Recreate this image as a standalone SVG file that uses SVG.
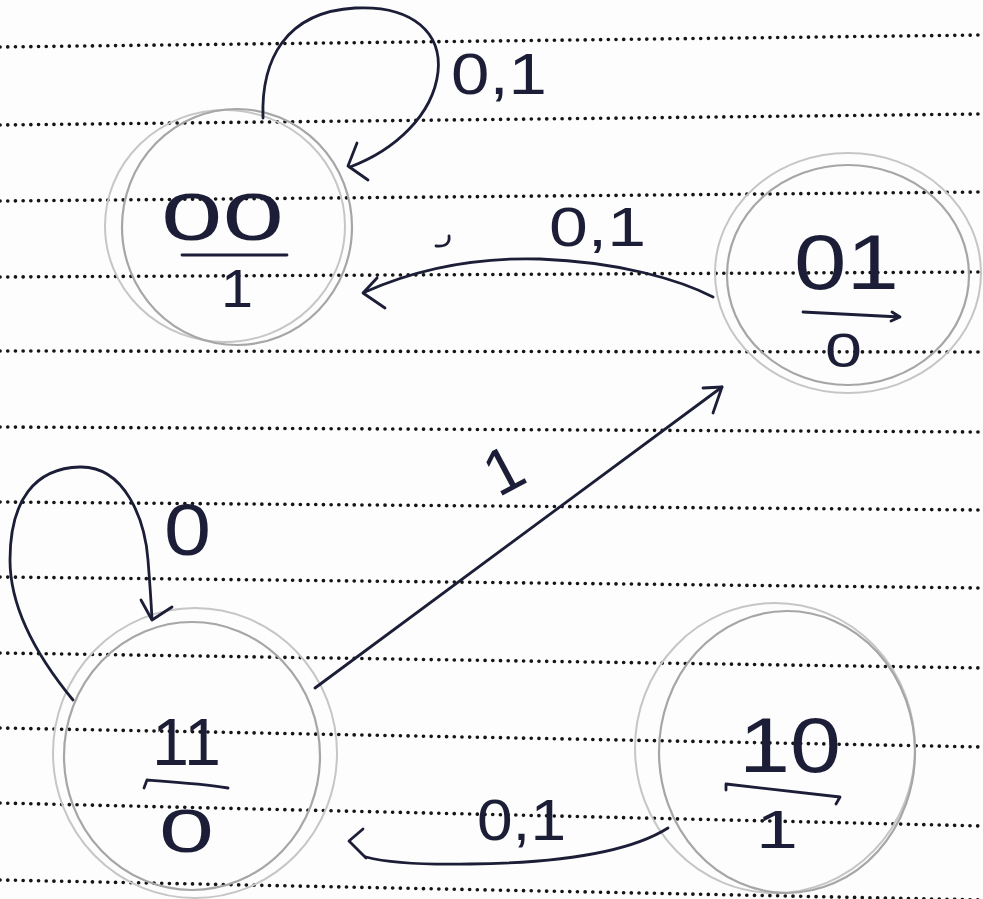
<svg xmlns="http://www.w3.org/2000/svg" width="983" height="899" viewBox="0 0 983 899">
<style>
.paper{fill:#fdfdfd}
.rule{stroke:#151515;stroke-width:3.6;stroke-linecap:round;stroke-dasharray:0.1 7.6;fill:none}
.pen1{fill:none;stroke:#c6c6c6;stroke-width:2}
.pen2{fill:none;stroke:#a6a6a6;stroke-width:2.2}
.ink{fill:none;stroke:#1b1e36;stroke-width:2.8;stroke-linecap:round;stroke-linejoin:round}
.t{font-family:"Liberation Sans",Arial,sans-serif;fill:#1b1e36}
</style>
<rect class="paper" x="0" y="0" width="983" height="899"/>
<g id="ruling">
<line class="rule" x1="0" y1="47" x2="983" y2="35"/>
<line class="rule" x1="0" y1="125" x2="983" y2="114"/>
<line class="rule" x1="0" y1="201" x2="983" y2="192"/>
<line class="rule" x1="0" y1="277" x2="983" y2="272"/>
<line class="rule" x1="0" y1="351" x2="983" y2="352"/>
<line class="rule" x1="0" y1="427" x2="983" y2="432"/>
<line class="rule" x1="0" y1="502" x2="983" y2="510"/>
<line class="rule" x1="0" y1="577" x2="983" y2="588"/>
<line class="rule" x1="0" y1="653" x2="983" y2="668"/>
<line class="rule" x1="0" y1="728" x2="983" y2="747"/>
<line class="rule" x1="0" y1="803" x2="983" y2="826"/>
<line class="rule" x1="0" y1="880" x2="983" y2="900"/>
</g>
<g id="state-00">
<ellipse class="pen1" cx="225" cy="226" rx="120" ry="116"/>
<ellipse class="pen2" cx="237" cy="227" rx="115" ry="118"/>
<text class="t" x="161" y="240" font-size="66" textLength="123" lengthAdjust="spacingAndGlyphs">00</text>
<path class="ink" d="M182,255 L287,255"/>
<text class="t" x="221" y="307" font-size="54" textLength="32" lengthAdjust="spacingAndGlyphs">1</text>
</g>
<g id="state-01">
<ellipse class="pen1" cx="848" cy="273" rx="133" ry="120"/>
<ellipse class="pen2" cx="848" cy="275" rx="121" ry="110"/>
<text class="t" x="794" y="289" font-size="78" textLength="105" lengthAdjust="spacingAndGlyphs">01</text>
<path class="ink" d="M803,312 L900,317 M892,312 L900,317 L891,321"/>
<text class="t" x="825" y="367" font-size="48" textLength="37" lengthAdjust="spacingAndGlyphs">0</text>
</g>
<g id="state-11">
<ellipse class="pen1" cx="195" cy="753" rx="142" ry="145"/>
<ellipse class="pen2" cx="192" cy="756" rx="128" ry="134"/>
<text class="t" x="152" y="765" font-size="66" textLength="69" lengthAdjust="spacingAndGlyphs">11</text>
<path class="ink" d="M144,788 L147,780 C175,782 205,784 228,788"/>
<text class="t" x="159" y="852" font-size="62" textLength="55" lengthAdjust="spacingAndGlyphs">0</text>
</g>
<g id="state-10">
<ellipse class="pen1" cx="775" cy="748" rx="140" ry="145"/>
<ellipse class="pen2" cx="787" cy="752" rx="128" ry="141"/>
<text class="t" x="739" y="772" font-size="78" textLength="102" lengthAdjust="spacingAndGlyphs">10</text>
<path class="ink" d="M726,790 L726,784 L840,797 L836,804"/>
<text class="t" x="756" y="848" font-size="54" textLength="42" lengthAdjust="spacingAndGlyphs">1</text>
</g>
<g id="connectors">
<g id="loop-00">
<path class="ink" d="M263,118 C261,60 285,12 355,8 C415,5 442,35 438,72 C433,115 395,150 350,167"/>
<path class="ink" d="M357,143 L348,166 L368,180"/>
<text class="t" x="451" y="94" font-size="58" textLength="96" lengthAdjust="spacingAndGlyphs">0,1</text>
</g>
<g id="edge-01-00">
<path class="ink" d="M713,297 C680,280 620,262 540,259 C470,257 410,272 365,292"/>
<path class="ink" d="M377,278 L363,293 L385,308"/>
<text class="t" x="549" y="246" font-size="55" textLength="97" lengthAdjust="spacingAndGlyphs">0,1</text>
<path class="ink" d="M449,236 C450,243 446,247 436,246"/>
</g>
<g id="loop-11">
<path class="ink" d="M73,700 C40,660 10,610 10,560 C10,500 35,468 80,467 C125,466 145,520 148,560 C150,585 151,600 152,619"/>
<path class="ink" d="M141,600 L152,620 L172,607"/>
<text class="t" x="164" y="555" font-size="72" textLength="47" lengthAdjust="spacingAndGlyphs">0</text>
</g>
<g id="edge-11-01">
<path class="ink" d="M315,688 L722,387"/>
<path class="ink" d="M703,388 L722,387 L713,413"/>
<text class="t" x="485" y="492" font-size="64" transform="rotate(-28 503 468)">1</text>
</g>
<g id="edge-10-11">
<path class="ink" d="M668,828 C630,852 560,863 470,864 C420,865 385,862 366,857"/>
<path class="ink" d="M363,829 L349,841 L366,858"/>
<text class="t" x="477" y="840" font-size="58" textLength="89" lengthAdjust="spacingAndGlyphs">0,1</text>
</g>
</g>
</svg>
